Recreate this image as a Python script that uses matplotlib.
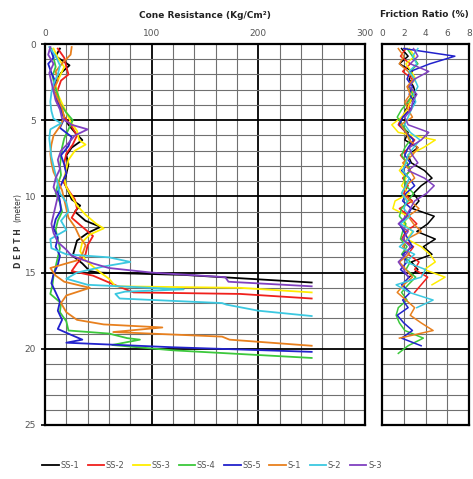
import matplotlib
matplotlib.use('Agg')
import matplotlib.pyplot as plt

# cone resistance (kg/cm2) vs depth (m)
ss1_d = [0.3, 0.8, 1.4, 1.9, 2.5, 3.0, 3.6, 4.2, 4.8, 5.3, 5.8, 6.3, 6.8, 7.3, 7.9, 8.5, 9.1, 9.7,
         10.2, 10.6, 11.0, 11.6, 12.0, 12.4, 12.9, 13.4, 13.9, 14.4, 14.9, 15.0, 15.15, 15.65]
ss1_qc = [14, 10, 23, 15, 10, 8, 12, 15, 18, 22, 28, 35, 25, 20, 22, 20, 18, 22,
          25, 33, 28, 38, 52, 40, 30, 28, 26, 35, 42, 50, 130, 250]

ss2_d = [0.3, 0.9, 1.5, 2.0, 2.4, 3.0, 3.6, 4.2, 4.8, 5.4, 6.0, 6.6, 7.2, 7.8, 8.4, 9.0, 9.6, 10.2,
         10.8, 11.4, 12.0, 12.6, 13.2, 13.8, 14.4, 14.9, 15.2, 15.8, 16.3, 16.4, 16.7]
ss2_qc = [12, 18, 20, 22, 15, 12, 10, 14, 18, 25, 30, 26, 20, 18, 20, 17, 22, 28,
          30, 25, 35, 45, 40, 38, 30, 25, 45, 65, 83, 183, 250]

ss3_d = [0.3, 0.9, 1.5, 2.1, 2.7, 3.3, 3.9, 4.5, 5.1, 5.7, 6.3, 6.6, 7.0, 7.6, 8.2, 8.8, 9.4, 10.0,
         10.6, 11.2, 11.8, 12.1, 12.5, 13.0, 13.6, 14.2, 14.6, 15.0, 15.4, 15.9, 16.0, 16.3]
ss3_qc = [8, 12, 18, 14, 10, 12, 16, 20, 24, 30, 32, 38, 28, 22, 20, 18, 20, 25,
          30, 38, 48, 55, 42, 35, 33, 38, 45, 52, 60, 66, 183, 250]

ss4_d = [0.3, 0.9, 1.5, 2.1, 2.7, 3.3, 3.9, 4.5, 5.0, 5.6, 6.2, 6.8, 7.4, 8.0, 8.6, 9.2, 9.8, 10.4,
         11.0, 11.6, 12.2, 12.8, 13.4, 14.0, 14.6, 15.2, 15.8, 16.4, 17.0, 17.6, 18.2, 18.8, 19.0,
         19.3, 19.4, 19.75, 20.1, 20.6]
ss4_qc = [6, 8, 10, 7, 9, 12, 14, 20, 26, 22, 18, 16, 15, 14, 15, 12, 10, 14,
          16, 12, 10, 12, 14, 12, 10, 8, 7, 5, 15, 14, 20, 22, 60,
          77, 89, 63, 120, 250]

ss5_d = [0.3, 0.9, 1.3, 1.9, 2.5, 3.1, 3.7, 4.3, 4.9, 5.5, 6.1, 6.7, 7.3, 7.9, 8.5, 9.1, 9.7, 10.3,
         10.9, 11.5, 12.1, 12.7, 13.3, 13.9, 14.5, 15.1, 15.7, 16.3, 16.9, 17.5, 18.1, 18.7, 19.1,
         19.4, 19.6, 19.9, 20.2]
ss5_qc = [5, 8, 3, 6, 10, 8, 12, 15, 18, 14, 25, 22, 15, 18, 20, 16, 12, 14,
          15, 10, 8, 12, 10, 14, 12, 8, 6, 10, 14, 12, 16, 12, 25,
          35, 20, 120, 250]

s1_d = [0.2, 0.7, 1.2, 1.8, 2.4, 3.0, 3.6, 4.2, 4.8, 5.4, 6.0, 6.6, 7.2, 7.8, 8.4, 9.0, 9.6, 10.2,
        10.8, 11.4, 12.0, 12.6, 13.2, 13.8, 14.2, 14.7, 15.2, 15.6, 16.0, 16.5, 17.0, 17.6, 18.1,
        18.4, 18.6, 18.9, 19.2, 19.4, 19.8]
s1_qc = [25, 24, 17, 10, 12, 8, 12, 16, 18, 14, 8, 6, 5, 6, 8, 12, 16, 18,
         20, 22, 28, 32, 38, 35, 30, 5, 10, 18, 42, 20, 15, 20, 30,
         55, 110, 64, 166, 173, 250]

s2_d = [0.2, 0.8, 1.4, 2.0, 2.6, 3.2, 3.8, 4.4, 4.9, 5.2, 5.6, 6.2, 6.8, 7.4, 8.0, 8.6, 9.2, 9.8,
        10.4, 11.0, 11.6, 12.2, 12.8, 13.4, 13.8, 14.0, 14.3, 14.6, 15.0, 15.4, 15.8, 16.1, 16.25,
        16.4, 16.7, 17.0, 17.1, 17.5, 17.85]
s2_qc = [4, 10, 14, 12, 8, 6, 5, 6, 8, 15, 5, 4, 5, 6, 8, 10, 12, 14,
         20, 22, 15, 20, 5, 6, 20, 60, 80, 55, 30, 20, 40, 130, 75,
         66, 70, 166, 170, 200, 250]

s3_d = [0.2, 0.7, 1.3, 1.9, 2.5, 3.1, 3.7, 4.3, 4.9, 5.3, 5.6, 6.0, 6.5, 7.0, 7.6, 8.2, 8.8, 9.4,
        10.0, 10.6, 11.2, 11.8, 12.4, 13.0, 13.5, 13.9, 14.4, 14.7, 15.0, 15.3, 15.6, 15.9]
s3_qc = [5, 3, 8, 4, 6, 8, 10, 14, 16, 25, 40, 28, 22, 15, 12, 14, 10, 8,
         12, 10, 8, 6, 8, 12, 20, 25, 45, 60, 100, 169, 172, 250]

# friction ratio (%) sampled on a common depth list
fr_d = [0.3, 0.8, 1.3, 1.8, 2.3, 2.8, 3.3, 3.8, 4.3, 4.8, 5.3, 5.8, 6.3, 6.8, 7.3, 7.8, 8.3, 8.8,
        9.3, 9.8, 10.3, 10.8, 11.3, 11.8, 12.3, 12.8, 13.3, 13.8, 14.3, 14.8, 15.3, 15.8, 16.3,
        16.8, 17.3, 17.8, 18.3, 18.8, 19.3, 19.8, 20.3]
ss1_fr = [1.8, 2.4, 1.6, 2.8, 2.5, 2.9, 3.1, 2.6, 2.2, 1.9, 1.6, 2.4, 2.1, 3.3, 2.4, 2.7, 3.9, 4.6,
          3.6, 2.9, 3.4, 2.8, 4.8, 4.2, 3.2, 4.9, 3.8, 4.6, 2.7, 3.3, 2.5]
ss2_fr = [2.2, 1.7, 2.6, 1.9, 2.8, 2.4, 3.0, 2.3, 2.6, 1.8, 1.5, 2.2, 3.0, 2.5, 1.7, 2.3, 2.6, 1.9,
          2.4, 2.0, 2.8, 1.6, 2.5, 3.2, 2.2, 1.8, 2.9, 2.4, 3.4, 3.0, 4.2, 3.6, 3.0]
ss3_fr = [2.5, 3.0, 2.2, 2.7, 3.1, 2.5, 2.9, 2.6, 2.3, 1.8, 0.9, 1.5, 4.9, 3.8, 2.4, 2.1, 1.6, 2.2,
          1.8, 2.5, 1.2, 1.0, 2.4, 2.0, 2.8, 2.3, 3.6, 4.4, 4.9, 3.9, 5.8, 4.6]
ss4_fr = [2.3, 2.8, 3.3, 2.6, 2.9, 2.5, 2.8, 2.4, 1.8, 1.4, 1.9, 2.3, 2.6, 2.1, 1.8, 2.3, 2.6, 2.0,
          2.2, 2.9, 2.4, 1.8, 1.6, 2.2, 1.9, 1.7, 2.3, 1.8, 2.6, 2.2, 3.1, 2.4, 1.8, 2.3, 1.5, 1.3,
          1.6, 2.1, 3.8, 2.4, 1.5]
ss5_fr = [2.0, 6.7, 4.4, 2.6, 2.3, 2.8, 2.5, 3.0, 2.6, 1.9, 1.6, 2.2, 2.9, 2.4, 2.1, 2.6, 1.8, 2.5,
          3.0, 2.2, 1.9, 2.7, 2.3, 1.6, 2.0, 2.4, 2.8, 1.9, 2.3, 1.7, 2.5, 1.8, 2.6, 1.9, 2.4, 1.4,
          2.0, 2.8, 1.8, 3.6]
s1_fr = [1.5, 2.0, 1.6, 2.4, 2.9, 2.3, 2.6, 2.1, 2.4, 2.8, 1.7, 2.2, 2.5, 3.3, 2.8, 1.9, 2.6, 3.0,
         2.2, 1.8, 2.6, 3.4, 2.4, 2.9, 3.6, 2.3, 1.9, 2.5, 1.6, 2.2, 2.8, 2.0, 1.4, 2.2, 3.0, 2.6,
         3.6, 4.7, 1.6]
s2_fr = [3.3, 2.8, 3.2, 2.5, 3.0, 3.3, 2.9, 3.1, 2.7, 2.4, 2.1, 2.6, 3.5, 2.9, 2.4, 2.2, 1.9, 2.5,
         2.2, 1.8, 2.3, 2.0, 2.6, 1.7, 2.9, 2.4, 1.6, 3.0, 2.2, 4.0, 3.6, 1.3, 2.5, 4.7, 3.2]
s3_fr = [2.9, 3.3, 2.6, 4.3, 3.0, 2.5, 3.2, 2.8, 2.7, 2.1, 2.4, 4.3, 3.6, 2.5, 2.8, 3.3, 2.4, 3.9,
         4.8, 4.1, 3.0, 2.6, 2.2, 1.5, 2.4, 1.9, 2.6, 2.2, 1.5, 2.0, 2.4]

names = ['SS-1', 'SS-2', 'SS-3', 'SS-4', 'SS-5', 'S-1', 'S-2', 'S-3']
colors = ['#000000', '#f0201c', '#ffee00', '#3cc83c', '#2222cc', '#e8801e', '#3cc8e0', '#8040c0']
qc_data = [(ss1_d, ss1_qc), (ss2_d, ss2_qc), (ss3_d, ss3_qc), (ss4_d, ss4_qc),
           (ss5_d, ss5_qc), (s1_d, s1_qc), (s2_d, s2_qc), (s3_d, s3_qc)]
fr_data = [ss1_fr, ss2_fr, ss3_fr, ss4_fr, ss5_fr, s1_fr, s2_fr, s3_fr]

fig = plt.figure(figsize=(4.73, 4.79), dpi=100)
ax1 = fig.add_axes([45 / 473, 1 - 425 / 479, 320 / 473, 381 / 479])
ax2 = fig.add_axes([382 / 473, 1 - 425 / 479, 87 / 473, 381 / 479])


def style_axes(ax, xmax, xminor, xmajor, xticks):
    ax.set_xlim(0, xmax)
    ax.set_ylim(25, 0)
    for x in range(0, xmax + 1, xminor):
        if x in (0, xmax):
            continue
        major = xmajor and x % xmajor == 0
        ax.axvline(x, color='black' if major else '#707070',
                   lw=1.3 if major else 0.8, zorder=0)
    for y in range(1, 25):
        major = y % 5 == 0
        ax.axhline(y, color='black' if major else '#707070',
                   lw=1.3 if major else 0.8, zorder=0)
    ax.xaxis.tick_top()
    ax.set_xticks(xticks)
    ax.tick_params(axis='x', length=0, pad=4, labelsize=6.5, labelcolor='#555555')
    for s in ax.spines.values():
        s.set_linewidth(1.6)


style_axes(ax1, 300, 20, 100, [0, 100, 200, 300])
style_axes(ax2, 8, 2, 0, [0, 2, 4, 6, 8])
ax1.set_yticks([0, 5, 10, 15, 20, 25])
ax1.tick_params(axis='y', length=3, width=1.2, labelsize=6.5, labelcolor='#555555')
ax2.set_yticks([])

for (d, v), c, n in zip(qc_data, colors, names):
    ax1.plot(v, d, color=c, lw=1.3, label=n)
for v, c in zip(fr_data, colors):
    ax2.plot(v, fr_d[:len(v)], color=c, lw=1.1)

fig.text(205 / 473, 1 - 15 / 479, 'Cone Resistance (Kg/Cm²)', ha='center', va='center',
         fontsize=6.5, fontweight='bold', color='#222222')
fig.text(424 / 473, 1 - 15 / 479, 'Friction Ratio (%)', ha='center', va='center',
         fontsize=6.5, fontweight='bold', color='#222222')
fig.text(18 / 473, 1 - 248 / 479, 'D E P T H', rotation=90, ha='center', va='center',
         fontsize=5.5, fontweight='bold', color='#333333')
fig.text(18 / 473, 1 - 207 / 479, '(meter)', rotation=90, ha='center', va='center',
         fontsize=5.5, color='#333333')

leg = fig.legend(loc='center', bbox_to_anchor=(212 / 473, 1 - 465 / 479), ncol=8,
                 frameon=False, fontsize=6, handlelength=2.0, handletextpad=0.2,
                 columnspacing=1.0)
for t in leg.get_texts():
    t.set_color('#555555')

fig.savefig('out.png', dpi=100)
